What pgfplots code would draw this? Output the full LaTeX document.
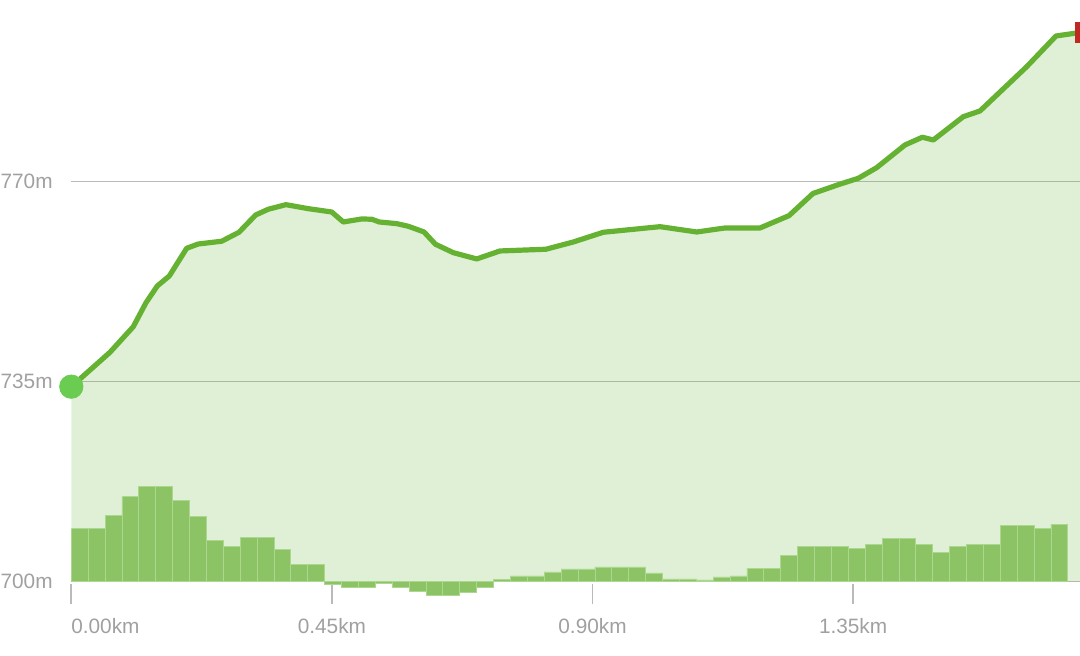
\documentclass[border=0pt]{standalone}
\usepackage{pgfplots}
\pgfplotsset{compat=1.18}
\usepackage{fontspec}
\setmainfont{Liberation Sans}
\definecolor{lgreen}{RGB}{101,178,51}
\definecolor{bgreen}{RGB}{140,195,100}
\definecolor{bedge}{RGB}{172,215,142}
\definecolor{sgreen}{RGB}{106,204,80}
\definecolor{ered}{RGB}{192,40,36}
\definecolor{gridc}{RGB}{186,186,186}
\definecolor{txt}{RGB}{160,160,160}
\begin{document}
\begin{tikzpicture}
\begin{axis}[
  scale only axis, width=504.35pt, height=300pt,
  xmin=0, xmax=1.7418, ymin=-3.24, ymax=101.76,
  axis line style={draw=none},
  xtick={0,0.45,0.9,1.35},
  xticklabels={\makebox[0pt][l]{0.00km},0.45km,0.90km,1.35km},
  ytick={0,35,70}, yticklabels={700m,735m,770m},
  xtick pos=bottom, ytick pos=left,
  ymajorgrids, grid style={gridc, line width=0.8pt},
  tick align=inside, major tick length=10pt,
  xtick style={draw=gridc, line width=0.9pt, yshift=-2pt},
  ytick style={draw=none},
  tick label style={font=\fontsize{10.4pt}{12pt}\selectfont, text=txt},
  xticklabel style={yshift=-5.5pt},
  yticklabel style={xshift=-5.8pt},
  clip mode=individual,
]
% elevation area
\addplot[draw=none, fill=lgreen, fill opacity=0.2] coordinates {
(0,0) (0,34.09) (0.06683,40.11) (0.10706,44.59) (0.12899,48.79) (0.14851,51.71)
(0.16923,53.46) (0.19927,58.31) (0.21930,59.06) (0.25971,59.54) (0.28959,61.11)
(0.31843,64.14) (0.34018,65.14) (0.37075,65.94) (0.40926,65.24) (0.44966,64.66)
(0.46969,62.91) (0.50147,63.44) (0.51873,63.39) (0.53185,62.91) (0.56190,62.62)
(0.58193,62.16) (0.60904,61.16) (0.62890,59.01) (0.65964,57.54) (0.70005,56.44)
(0.74028,57.84) (0.81971,58.14) (0.86685,59.41) (0.91866,61.11) (1.01657,62.09)
(1.07994,61.16) (1.12881,61.86) (1.18925,61.86) (1.23933,64.02) (1.28077,67.90)
(1.32446,69.44) (1.35900,70.56) (1.39077,72.42) (1.43964,76.39) (1.46951,77.74)
(1.48851,77.26) (1.54031,81.34) (1.56915,82.34) (1.64979,90.09) (1.70039,95.46)
(1.73320,95.94) (1.75047,96.08) (1.75047,0)
} -- cycle;
% grade bars
\addplot[ybar, bar width=0.029166, fill=bgreen, draw=bedge, line width=0.4pt] coordinates {
(0.014583,9.22) (0.043749,9.22) (0.072915,11.50) (0.102081,14.82) (0.131247,16.68)
(0.160413,16.68) (0.189579,14.12) (0.218745,11.32) (0.247911,7.12) (0.277077,6.18)
(0.306243,7.75) (0.335409,7.75) (0.364575,5.55) (0.393741,2.92) (0.422907,2.92)
(0.452073,-0.58) (0.481239,-1.05) (0.510405,-1.05) (0.539571,-0.40) (0.568737,-1.05)
(0.597903,-1.75) (0.627069,-2.45) (0.656235,-2.45) (0.685401,-1.92) (0.714567,-0.96)
(0.743733,0.35) (0.772899,0.96) (0.802065,0.96) (0.831231,1.66) (0.860397,2.19)
(0.889563,2.19) (0.918729,2.54) (0.947895,2.54) (0.977061,2.54) (1.006227,1.49)
(1.035393,0.44) (1.064559,0.44) (1.093725,0.26) (1.122891,0.79) (1.152057,0.96)
(1.181223,2.28) (1.210389,2.28) (1.239555,4.55) (1.268721,6.13) (1.297887,6.13)
(1.327053,6.13) (1.356219,5.72) (1.385385,6.53) (1.414551,7.58) (1.443717,7.58)
(1.472883,6.53) (1.502049,5.13) (1.531215,6.18) (1.560381,6.48) (1.589547,6.48)
(1.618713,9.85) (1.647879,9.85) (1.677045,9.33) (1.706211,10.03)
};
% elevation line
\addplot[lgreen, line width=2.6pt, line join=round] coordinates {
(0,34.09) (0.06683,40.11) (0.10706,44.59) (0.12899,48.79) (0.14851,51.71)
(0.16923,53.46) (0.19927,58.31) (0.21930,59.06) (0.25971,59.54) (0.28959,61.11)
(0.31843,64.14) (0.34018,65.14) (0.37075,65.94) (0.40926,65.24) (0.44966,64.66)
(0.46969,62.91) (0.50147,63.44) (0.51873,63.39) (0.53185,62.91) (0.56190,62.62)
(0.58193,62.16) (0.60904,61.16) (0.62890,59.01) (0.65964,57.54) (0.70005,56.44)
(0.74028,57.84) (0.81971,58.14) (0.86685,59.41) (0.91866,61.11) (1.01657,62.09)
(1.07994,61.16) (1.12881,61.86) (1.18925,61.86) (1.23933,64.02) (1.28077,67.90)
(1.32446,69.44) (1.35900,70.56) (1.39077,72.42) (1.43964,76.39) (1.46951,77.74)
(1.48851,77.26) (1.54031,81.34) (1.56915,82.34) (1.64979,90.09) (1.70039,95.46)
(1.73320,95.94) (1.75047,96.08)
};
% start and end markers
\addplot[sgreen, only marks, mark=*, mark size=5.85pt, mark options={fill=sgreen, draw=sgreen}] coordinates {(0,34.09)};
\addplot[ered, only marks, mark=square*, mark size=5pt, mark options={fill=ered, draw=ered, xshift=2.5pt}] coordinates {(1.7418,96.06)};
\end{axis}
\pgfresetboundingbox
\path[use as bounding box] (-35.65pt,-28pt) rectangle (504.35pt,300pt);
\end{tikzpicture}
\end{document}
